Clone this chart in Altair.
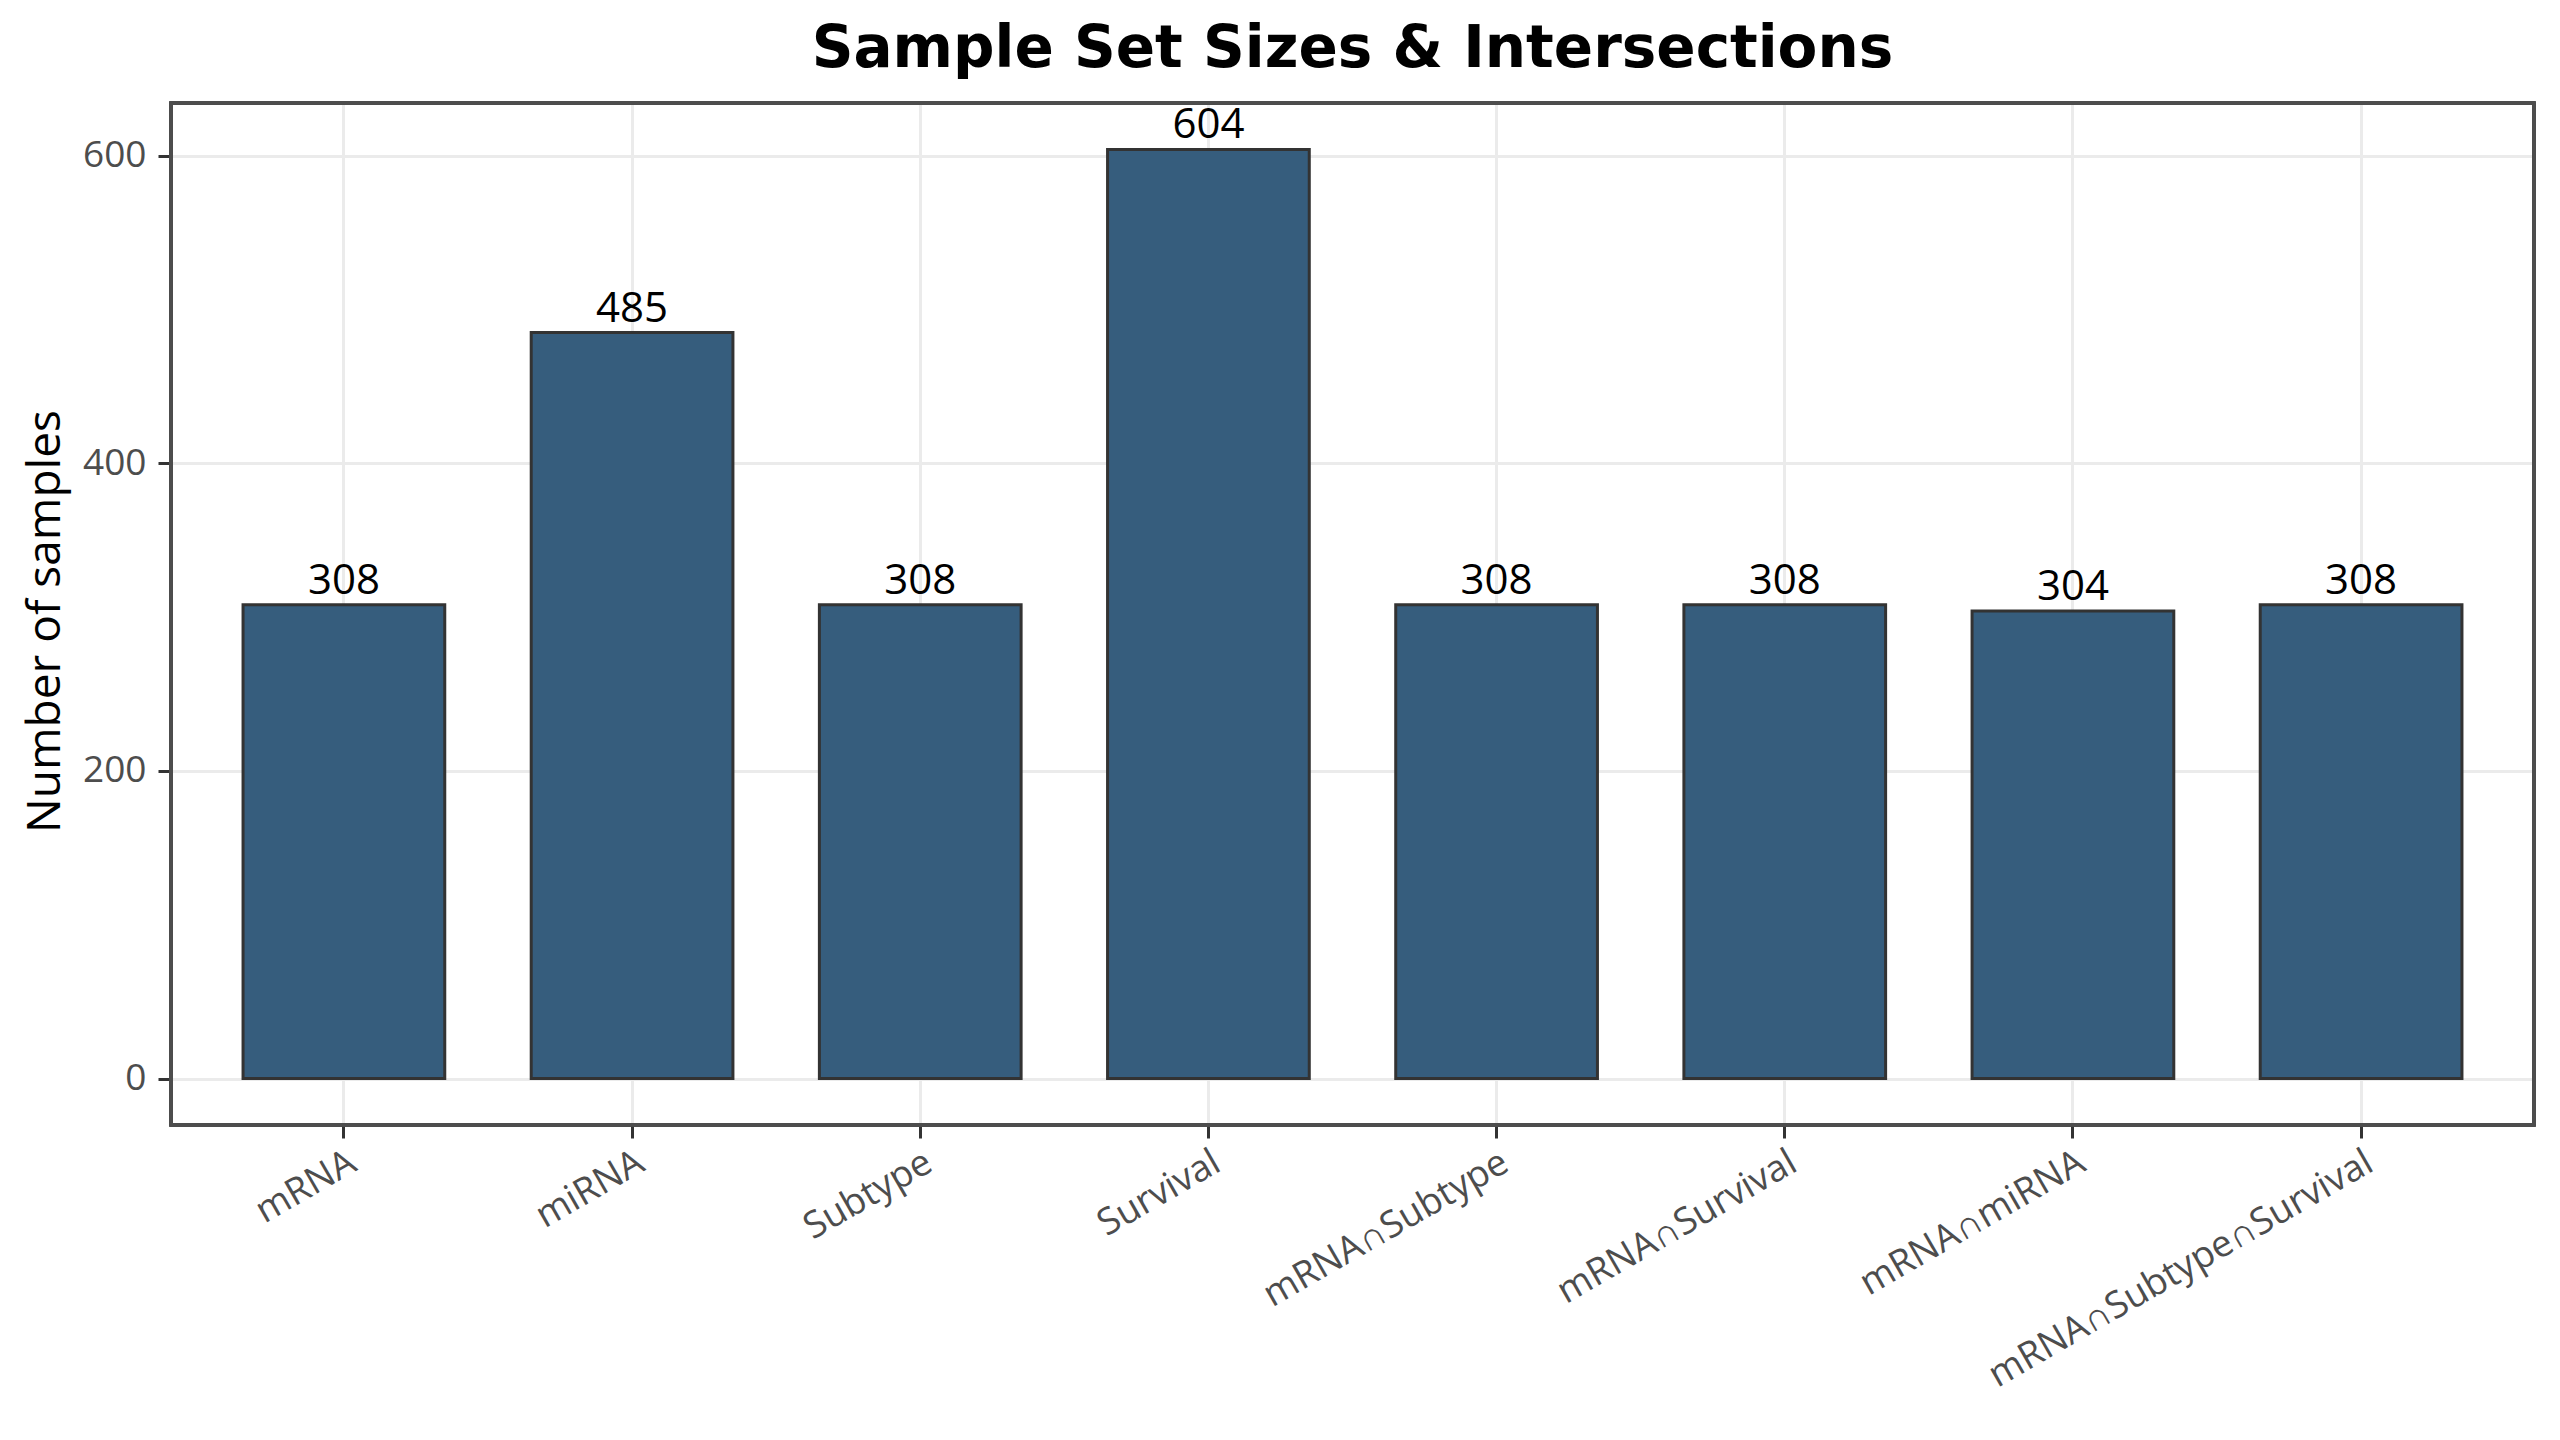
import altair as alt
import pandas as pd

categories = ["mRNA", "miRNA", "Subtype", "Survival", "mRNA∩Subtype",
              "mRNA∩Survival", "mRNA∩miRNA", "mRNA∩Subtype∩Survival"]
counts = [308, 485, 308, 604, 308, 308, 304, 308]
y_ticks = [0, 200, 400, 600]

W, H = 2363, 1022
FONT = "Open Sans, Liberation Sans"

df = pd.DataFrame({"set": categories, "n": counts})

x_enc = alt.X("set:N", sort=categories,
              scale=alt.Scale(paddingInner=0.3, paddingOuter=0.25),
              axis=alt.Axis(title=None, labelAngle=-30, labelAlign="right",
                            labelBaseline="top", labelPadding=6,
                            labelFontSize=37, labelFont=FONT,
                            labelColor="#4d4d4d", labelLimit=0,
                            labelOverlap=False, grid=True,
                            gridColor="#ebebeb", gridWidth=3,
                            tickColor="#333333", tickWidth=3, tickSize=13,
                            domain=False))
y_scale = alt.Scale(domain=[-30.2, 634.2], nice=False, zero=False)

bars = alt.Chart(df).mark_bar(color="#365D7D", stroke="#333333",
                              strokeWidth=3).encode(
    x=x_enc,
    y=alt.Y("n:Q", scale=y_scale,
            axis=alt.Axis(title="Number of samples", values=y_ticks,
                          titleFontSize=46, titleFont=FONT,
                          titleFontWeight="normal", titleColor="black",
                          titleAngle=-90, titleAlign="center",
                          titleBaseline="alphabetic", titleX=-112, titleY=518,
                          labelFontSize=37, labelFont=FONT,
                          labelColor="#4d4d4d", labelPadding=12,
                          grid=True, gridColor="#ebebeb", gridWidth=3,
                          tickColor="#333333", tickWidth=3, tickSize=13,
                          domain=False)),
    y2=alt.datum(0),
)

labels = alt.Chart(df).mark_text(font=FONT, fontSize=42,
                                 color="black", baseline="alphabetic",
                                 align="center", dy=-11).encode(
    x=alt.X("set:N", sort=categories),
    y=alt.Y("n:Q", scale=y_scale),
    text=alt.Text("n:Q"),
)

frame = alt.Chart(df).mark_rect(fill=None, stroke="#4d4d4d",
                                strokeWidth=3).encode(
    x=alt.value(0), x2=alt.value(W), y=alt.value(0), y2=alt.value(H)
)

chart = alt.layer(bars, labels, frame).properties(
    width=W, height=H,
    title=alt.TitleParams("Sample Set Sizes & Intersections", fontSize=58,
                          font="DejaVu Sans", fontWeight="bold",
                          color="black", anchor="middle",
                          baseline="alphabetic", offset=36, dy=59),
    autosize=alt.AutoSizeParams(type="none"),
    padding={"left": 171, "top": 103, "right": 26, "bottom": 315},
).configure_view(stroke=None).configure(background="white")

chart.save("out.html", embed_options={"renderer": "svg", "actions": False})
